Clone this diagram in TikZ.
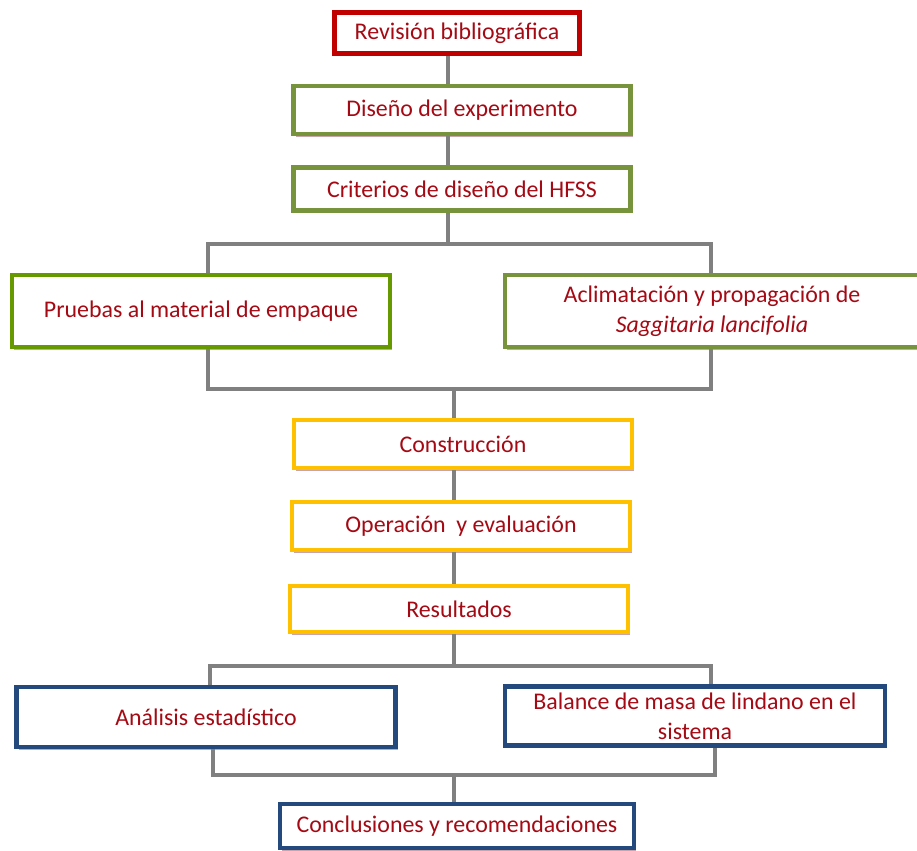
\documentclass[tikz,border=0pt]{standalone}
\usepackage{fontspec}
\setmainfont{Carlito}
\usepackage{tikz}
\usetikzlibrary{positioning}
\usetikzlibrary{calc}
\usetikzlibrary{shadows}

\definecolor{textred}{RGB}{165,10,20}
\definecolor{boxred}{RGB}{192,0,0}
\definecolor{boxolive}{RGB}{119,147,60}
\definecolor{boxgreen}{RGB}{102,153,0}
\definecolor{boxyellow}{RGB}{255,192,0}
\definecolor{boxblue}{RGB}{36,74,125}
\definecolor{linkgray}{RGB}{128,128,128}
\definecolor{shadowpink}{RGB}{200,165,170}

\tikzset{
  box/.style={draw, line width=2.6pt, fill=white, text=textred, align=center,
    inner sep=2pt, font=\fontsize{13.6}{17}\selectfont,
    drop shadow={shadow xshift=1.2pt, shadow yshift=-1.6pt, fill=shadowpink, opacity=1}},
  link/.style={draw=linkgray, line width=2pt}
}

\begin{document}
\begin{tikzpicture}[x=0.02cm,y=-0.02cm]
  \useasboundingbox (0,0) rectangle (917,850);

  % steps
  \node[box, draw=boxred, minimum width=4.9cm, minimum height=0.82cm] (rev) at (457,33) {Revisión bibliográfica};
  \node[box, draw=boxolive, minimum width=6.74cm, minimum height=0.96cm] (dis) at (462,110) {Diseño del experimento};
  \node[box, draw=boxolive, minimum width=6.74cm, minimum height=0.86cm] (crit) at (462,189) {Criterios de diseño del HFSS};
  \node[box, draw=boxgreen, minimum width=7.56cm, minimum height=1.44cm] (pru) at (201,311) {Pruebas al material de empaque};
  \node[box, draw=boxolive, minimum width=8.28cm, minimum height=1.44cm] (acl) at (712,311) {Aclimatación y propagación de\\\textit{Saggitaria lancifolia}};
  \node[box, draw=boxyellow, minimum width=6.76cm, minimum height=0.96cm] (cons) at (463,444) {Construcción};
  \node[box, draw=boxyellow, minimum width=6.76cm, minimum height=0.96cm] (oper) at (461,526) {Operación~ y evaluación};
  \node[box, draw=boxyellow, minimum width=6.76cm, minimum height=0.92cm] (res) at (459,609) {Resultados};
  \node[box, draw=boxblue, minimum width=7.58cm, minimum height=1.2cm] (ana) at (206,717) {Análisis estadístico};
  \node[box, draw=boxblue, minimum width=7.6cm, minimum height=1.18cm] (bal) at (695,716) {Balance de masa de lindano en el\\sistema};
  \node[box, draw=boxblue, minimum width=7.08cm, minimum height=0.88cm] (conc) at (457,826) {Conclusiones y recomendaciones};

  % trunks and branches
  \coordinate (t1) at (448,0);
  \coordinate (t2) at (454,0);
  \coordinate (upL) at (208,244);
  \coordinate (upR) at (711,244);
  \coordinate (loL) at (208,389);
  \coordinate (loR) at (711,389);
  \coordinate (dnL) at (210,666);
  \coordinate (dnR) at (711,666);
  \coordinate (enL) at (213,775);
  \coordinate (enR) at (715,775);

  \draw[link] (rev.south -| t1) -- (dis.north -| t1);
  \draw[link] (dis.south -| t1) -- (crit.north -| t1);
  \draw[link] (crit.south -| t1) -- (upL -| t1);
  \draw[link] (pru.north -| upL) -- (upL) -- (upR) -- (acl.north -| upR);
  \draw[link] (pru.south -| loL) -- (loL) -- (loR) -- (acl.south -| loR);
  \draw[link] (loL -| t2) -- (cons.north -| t2);
  \draw[link] (cons.south -| t2) -- (oper.north -| t2);
  \draw[link] (oper.south -| t2) -- (res.north -| t2);
  \draw[link] (res.south -| t2) -- (dnL -| t2);
  \draw[link] (ana.north -| dnL) -- (dnL) -- (dnR) -- (bal.north -| dnR);
  \draw[link] (ana.south -| enL) -- (enL) -- (enR) -- (bal.south -| enR);
  \draw[link] (enL -| t2) -- (conc.north -| t2);
\end{tikzpicture}
\end{document}
